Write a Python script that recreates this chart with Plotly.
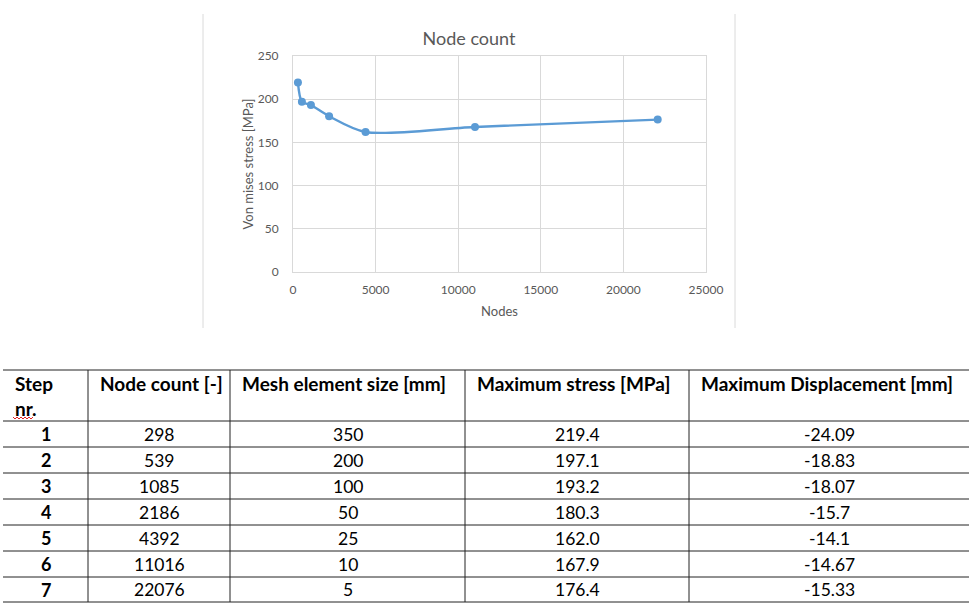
import plotly.graph_objects as go

# ---------------- data ----------------
steps = ["1", "2", "3", "4", "5", "6", "7"]
node_count = [298, 539, 1085, 2186, 4392, 11016, 22076]
mesh_size = ["350", "200", "100", "50", "25", "10", "5"]
max_stress = [219.4, 197.1, 193.2, 180.3, 162.0, 167.9, 176.4]
max_stress_txt = ["219.4", "197.1", "193.2", "180.3", "162.0", "167.9", "176.4"]
max_disp = ["-24.09", "-18.83", "-18.07", "-15.7", "-14.1", "-14.67", "-15.33"]
headers = ["Step", "Node count [-]", "Mesh element size [mm]",
           "Maximum stress [MPa]", "Maximum Displacement [mm]"]

W, H = 969, 607
def X(px):
    return px / W
def Y(py):
    return 1 - py / H

FONT = "Lato, 'Open Sans', sans-serif"
GRID = "#D9D9D9"
BLUE = "#5B9BD5"

fig = go.Figure()
fig.add_trace(go.Scatter(
    x=node_count, y=max_stress, mode="lines+markers",
    line=dict(color=BLUE, width=2.4, shape="spline", smoothing=0.8),
    marker=dict(color=BLUE, size=8),
    showlegend=False, hoverinfo="x+y"))

fig.update_layout(
    width=W, height=H, autosize=False,
    margin=dict(l=0, r=0, t=0, b=0, pad=0, autoexpand=False),
    paper_bgcolor="white", plot_bgcolor="white",
    font=dict(family=FONT, color="#595959"),
    title=dict(text="Node count", x=X(469), xanchor="center",
               y=Y(39), yanchor="middle",
               font=dict(size=18, color="#595959", family=FONT)),
    xaxis=dict(domain=[X(293), X(706)], range=[0, 25000], dtick=5000,
               tickformat="d",
               showgrid=True, gridcolor=GRID, gridwidth=1,
               zeroline=False, showline=True, linecolor=GRID, mirror=True,
               ticks="", ticklabelstandoff=7, automargin=False,
               tickfont=dict(size=12, color="#595959"),
               title=dict(text="Nodes", font=dict(size=13, color="#595959"), standoff=10)),
    yaxis=dict(domain=[Y(272), Y(56)], range=[0, 250], dtick=50,
               showgrid=True, gridcolor=GRID, gridwidth=1,
               zeroline=False, showline=True, linecolor=GRID, mirror=True,
               ticks="", ticklabelstandoff=11, automargin=False,
               tickfont=dict(size=12, color="#595959"),
               title=dict(text="Von mises stress [MPa]",
                          font=dict(size=13, color="#595959"), standoff=1)),
)

shapes = []
# chart frame (left/right edges)
for xv in (203, 735):
    shapes.append(dict(type="line", xref="paper", yref="paper",
                       x0=X(xv), x1=X(xv), y0=Y(14), y1=Y(328),
                       line=dict(color="#DADADA", width=1)))

# table grid
row_lines = [370, 421, 447, 473, 499, 525, 551, 577, 602]
col_lines = [88, 230, 465, 689]
for yv in row_lines:
    shapes.append(dict(type="line", xref="paper", yref="paper",
                       x0=X(3), x1=X(969), y0=Y(yv), y1=Y(yv),
                       line=dict(color="#222222", width=1)))
for xv in col_lines:
    shapes.append(dict(type="line", xref="paper", yref="paper",
                       x0=X(xv), x1=X(xv), y0=Y(370), y1=Y(602),
                       line=dict(color="#222222", width=1)))

# red spell-check squiggle under "nr."
pts = []
for i in range(0, 11):
    px = 13 + i * 2
    py = 417 if i % 2 == 0 else 419
    pts.append(f"{X(px)},{Y(py)}")
shapes.append(dict(type="path", xref="paper", yref="paper",
                   path="M " + " L ".join(pts),
                   line=dict(color="#E02020", width=1)))

fig.update_layout(shapes=shapes)

HFONT = dict(size=19, color="#000000", family=FONT, weight="bold")
ann = []
col_left = [3, 88, 230, 465, 689]
col_right = [88, 230, 465, 689, 969]
# headers
ann.append(dict(text="Step", x=X(13), y=Y(383), xref="paper", yref="paper",
                xanchor="left", yanchor="middle", showarrow=False, font=HFONT))
ann.append(dict(text="nr.", x=X(13), y=Y(408), xref="paper", yref="paper",
                xanchor="left", yanchor="middle", showarrow=False, font=HFONT))
for i, h in enumerate(headers[1:], start=1):
    ann.append(dict(text=h, x=X(col_left[i] + 10), y=Y(383), xref="paper", yref="paper",
                    xanchor="left", yanchor="middle", showarrow=False, font=HFONT))

columns = [steps, [str(v) for v in node_count], mesh_size, max_stress_txt, max_disp]
for r in range(len(steps)):
    yc = (row_lines[r + 1] + row_lines[r + 2]) / 2
    for c, col in enumerate(columns):
        xc = (col_left[c] + col_right[c]) / 2
        ann.append(dict(text=col[r], x=X(xc), y=Y(yc), xref="paper", yref="paper",
                        xanchor="center", yanchor="middle", showarrow=False,
                        font=dict(size=18 if c == 0 else 17.5, color="#000000", family=FONT,
                                  weight="bold" if c == 0 else "normal")))
fig.update_layout(annotations=ann)

fig.write_html("out.html")
